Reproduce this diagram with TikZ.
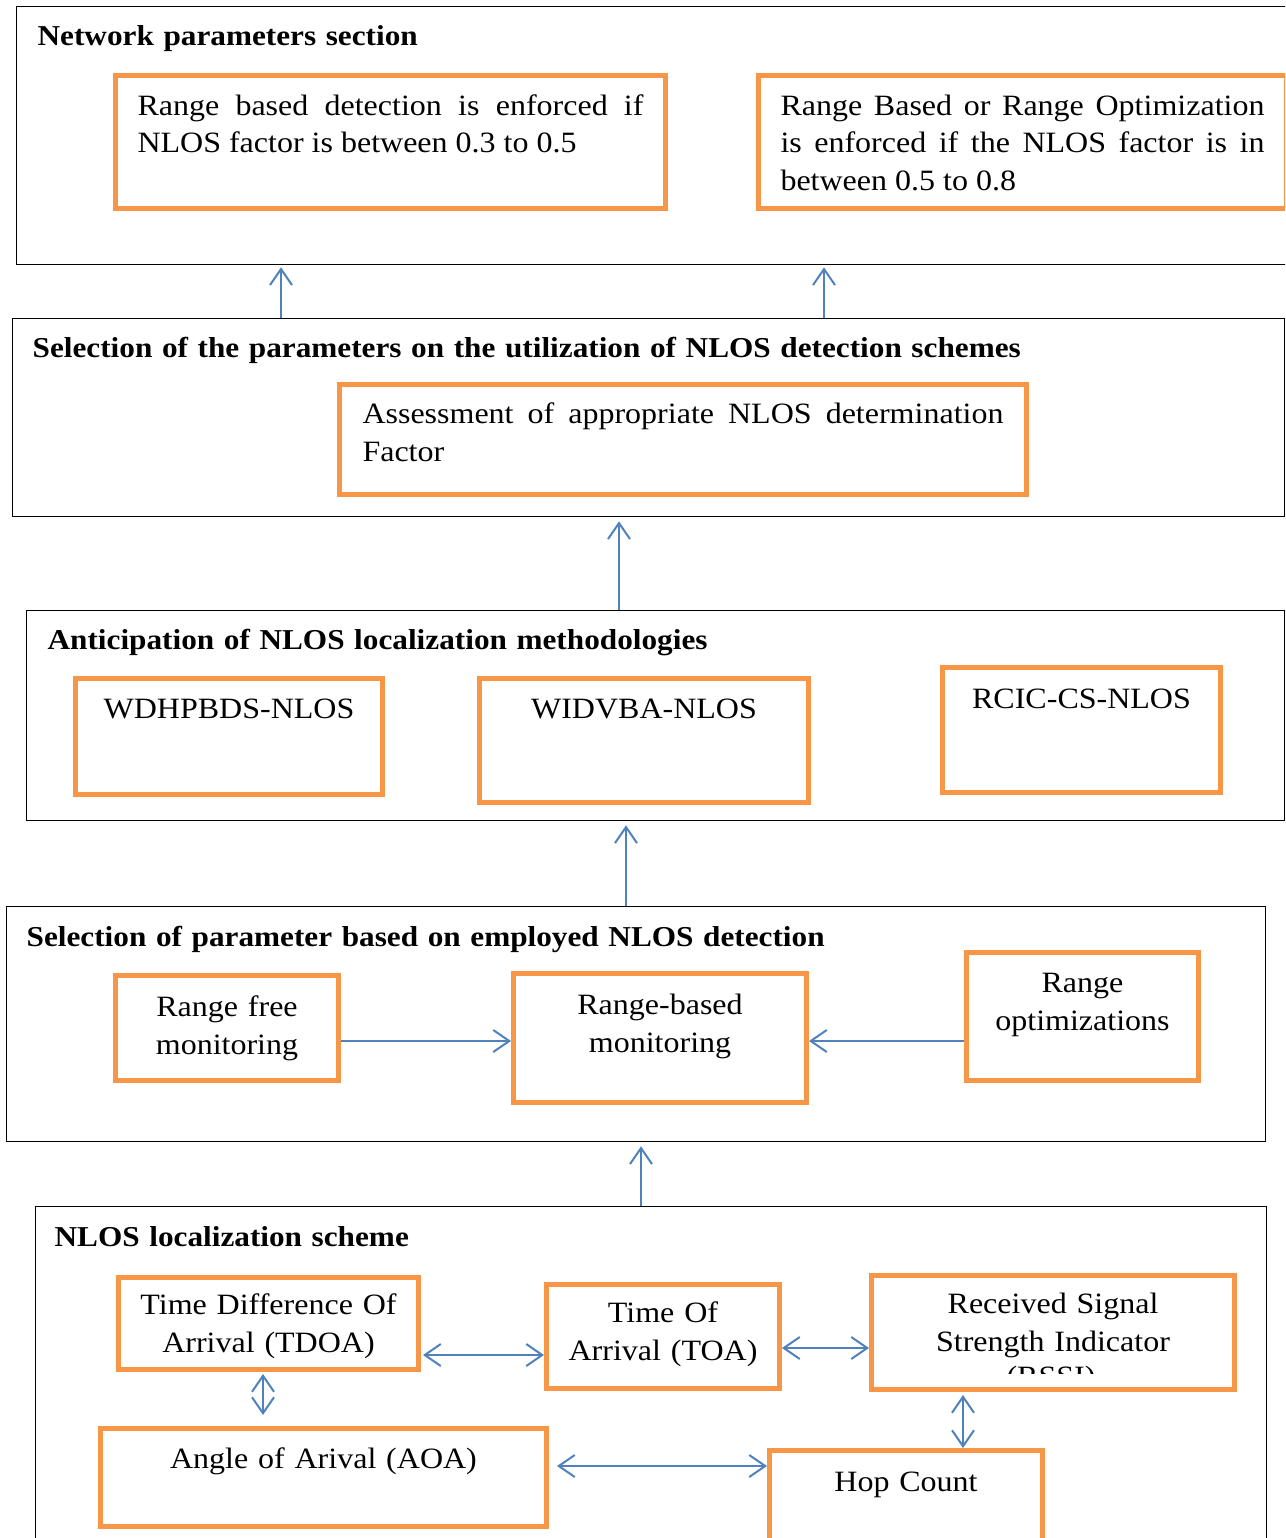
\documentclass[tikz,border=0pt]{standalone}
\usepackage{fontspec}
\setmainfont{Liberation Serif}[FakeStretch=1.085]
\usetikzlibrary{arrows.meta}
\definecolor{boxorange}{HTML}{F79646}
\definecolor{arrblue}{HTML}{4F81BD}
\newcommand{\hdfont}{\fontsize{28.8}{33}\selectfont\bfseries}
\newcommand{\bdfont}{\fontsize{29.5}{37.5}\selectfont}
\tikzset{panel/.style = {draw, line width=1.3pt, inner ysep=0pt, anchor=north west, align=left, font=\hdfont},
         obox/.style  = {draw=boxorange, line width=5pt, inner ysep=0pt, anchor=north west, font=\bdfont},
         arr/.style   = {draw=arrblue, line width=2pt}}

\begin{document}
\begin{tikzpicture}[x=1pt, y=-1pt, >={Straight Barb[length=16pt,width=22pt]}]
    \path[use as bounding box, clip] (0,0) rectangle (1285,1538);
    % panels
    \node[panel, inner xsep=21pt, text width=1242pt, text height=39pt, text depth=219pt] (nps) at (16,6)    {Network parameters section};
    \node[panel, inner xsep=20pt, text width=1232pt, text height=39pt, text depth=159pt] (sel) at (12,318)  {Selection of the parameters on the utilization of NLOS detection schemes};
    \node[panel, inner xsep=21pt, text width=1216pt, text height=39pt, text depth=171pt] (ant) at (26,610)  {Anticipation of NLOS localization methodologies};
    \node[panel, inner xsep=20pt, text width=1219pt, text height=40pt, text depth=195pt] (emp) at (6,906)   {Selection of parameter based on employed NLOS detection};
    \node[panel, inner xsep=19pt, text width=1193pt, text height=40pt, text depth=314pt] (loc) at (35,1206) {NLOS localization scheme};
    % network parameters
    \node[obox, align=justify, inner xsep=22pt, text width=506pt, text height=40pt, text depth=93pt] (rbd) at (113,73)
        {Range based detection is enforced if\linebreak NLOS factor is between 0.3 to 0.5};
    \node[obox, align=justify, inner xsep=22pt, text width=484pt, text height=40pt, text depth=93pt] (rbo) at (756,73)
        {Range Based or Range Optimization\linebreak is enforced if the NLOS factor is in\linebreak between 0.5 to 0.8};
    % selection of parameters
    \node[obox, align=justify, inner xsep=23pt, text width=641pt, text height=39pt, text depth=71pt] (ass) at (337,382)
        {Assessment of appropriate NLOS determination\linebreak Factor};
    % methodologies
    \node[obox, align=center, inner xsep=23.5pt, text width=260pt, text height=40pt, text depth=76pt] (wd) at (73,676)  {WDHPBDS-NLOS};
    \node[obox, align=center, inner xsep=23pt,   text width=283pt, text height=40pt, text depth=84pt] (wi) at (477,676) {WIDVBA-NLOS};
    \node[obox, align=center, inner xsep=15pt,   text width=248pt, text height=41pt, text depth=84pt] (rc) at (940,665) {RCIC-CS-NLOS};
    % employed detection
    \node[obox, align=center, inner xsep=21.5pt, text width=180pt, text height=41pt, text depth=64pt] (rf)  at (113,973) {Range free\\monitoring};
    \node[obox, align=center, inner xsep=21.5pt, text width=250pt, text height=41pt, text depth=88pt] (rbm) at (511,971) {Range-based\\monitoring};
    \node[obox, align=center, inner xsep=16pt,   text width=200pt, text height=40pt, text depth=88pt] (ro)  at (964,950) {Range\\optimizations};
    % localization scheme
    \node[obox, align=center, inner xsep=15pt,   text width=270pt, text height=37pt, text depth=55pt] (td) at (116,1275) {Time Difference Of\\Arrival (TDOA)};
    \node[obox, align=center, inner xsep=16.5pt, text width=200pt, text height=38pt, text depth=66pt] (to) at (544,1282) {Time Of\\Arrival (TOA)};
    \node[obox, align=center, inner xsep=16.5pt, text width=330pt, text height=38pt, text depth=76pt] (rs) at (869,1273) {Received Signal\\Strength Indicator};
    \begin{scope}
        \clip (869,1290) rectangle (1232,1373);
        \node[font=\bdfont, anchor=base, inner sep=0pt] (rsl) at (1051,1386) {(RSSI)};
    \end{scope}
    \node[obox, align=center, inner xsep=15pt,   text width=416pt, text height=40pt, text depth=58pt] (ao) at (98,1426)  {Angle of Arival (AOA)};
    \node[obox, align=center, inner xsep=15pt,   text width=243pt, text height=41pt, text depth=71pt] (hc) at (767,1448) {Hop Count};
    % connectors
    \draw[arr, ->, shorten >=2pt] (sel.north -| 281,0) -- (nps.south -| 281,0);
    \draw[arr, ->, shorten >=2pt] (sel.north -| 824,0) -- (nps.south -| 824,0);
    \draw[arr, ->, shorten >=4pt] (ant.north -| 619,0) -- (sel.south -| 619,0);
    \draw[arr, ->, shorten >=4pt] (emp.north -| 626,0) -- (ant.south -| 626,0);
    \draw[arr, ->, shorten >=4pt] (loc.north -| 641,0) -- (emp.south -| 641,0);
    \draw[arr, ->] (rf.east |- 0,1041) -- (rbm.west |- 0,1041);
    \draw[arr, ->] (ro.west |- 0,1041) -- (rbm.east |- 0,1041);
    \draw[arr, <->, shorten <=2pt] (td.east |- 0,1355) -- (to.west |- 0,1355);
    \draw[arr, <->] (to.east |- 0,1348) -- (rs.west |- 0,1348);
    \draw[arr, <->, shorten <=2pt, shorten >=11pt] (td.south -| 263,0) -- (ao.north -| 263,0);
    \draw[arr, <->, shorten <=3pt] (rs.south -| 963,0) -- (hc.north -| 963,0);
    \draw[arr, <->, shorten <=8pt] (ao.east |- 0,1466) -- (hc.west |- 0,1466);
\end{tikzpicture}
\end{document}
